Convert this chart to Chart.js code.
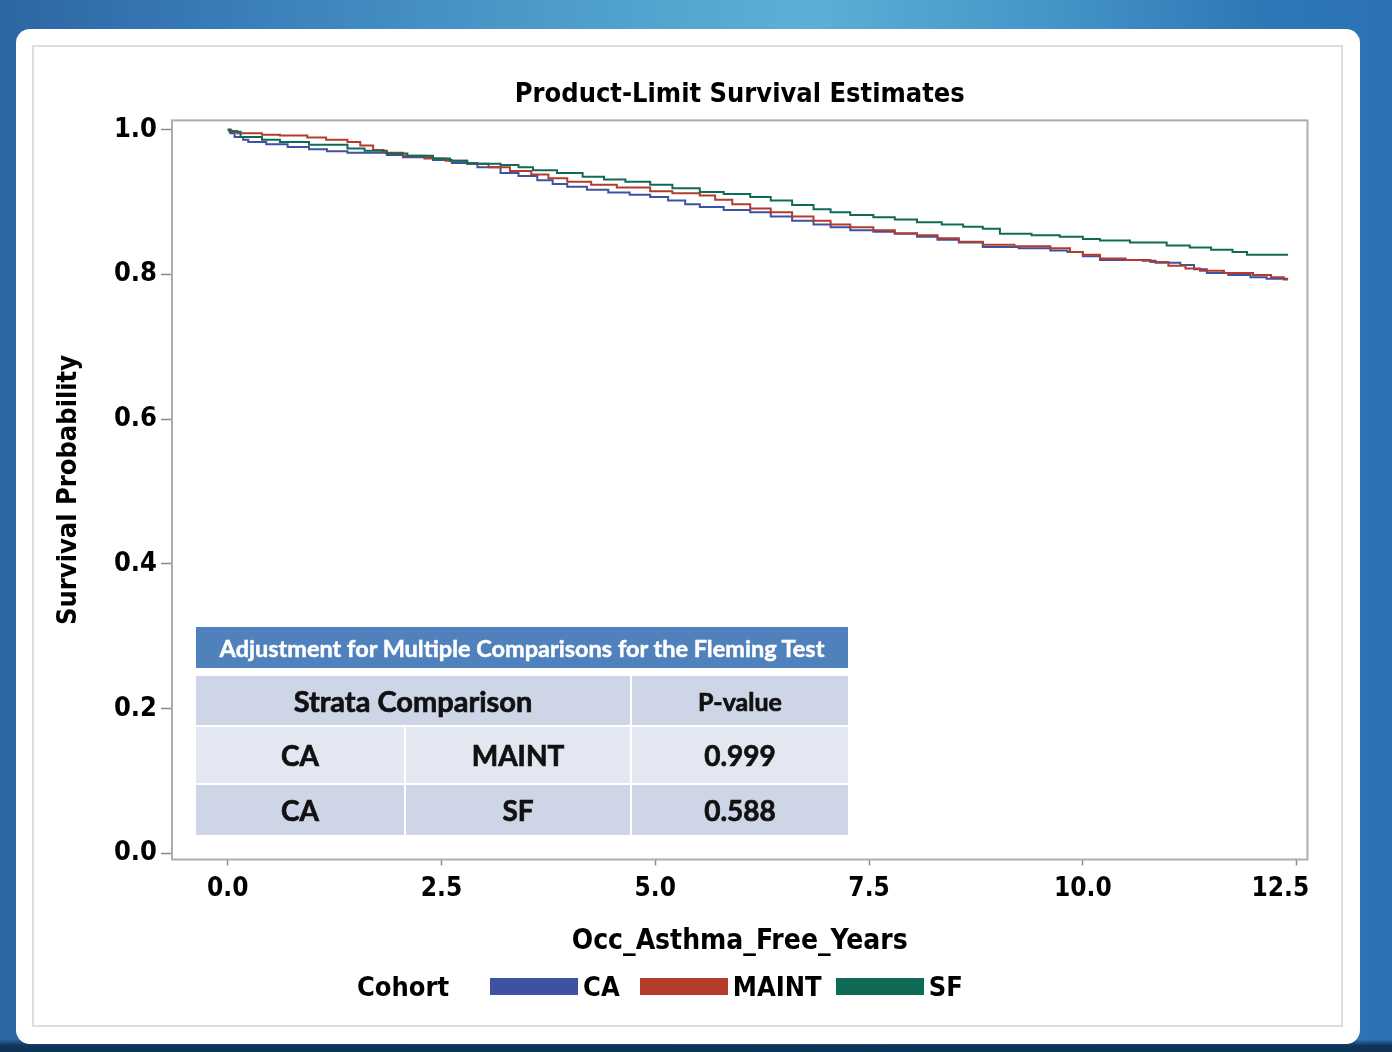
<!DOCTYPE html>
<html>
<head>
<meta charset="utf-8">
<script src="https://cdn.jsdelivr.net/npm/chart.js@4.4.1/dist/chart.umd.min.js"></script>
<style>
html,body{margin:0;padding:0;}
body{width:1392px;height:1052px;overflow:hidden;position:relative;
 background:
  linear-gradient(180deg, rgba(8,30,60,0) 0%, rgba(8,30,60,0) 98.8%, #0f3458 99.4%),
  linear-gradient(90deg,#2c66a3 0%,#3a7fba 18%,#4d9ccb 40%,#5cb0d6 58%,#4596c9 75%,#2f78b6 90%,#2a72b4 100%);}
#card{position:absolute;left:16px;top:29px;width:1344px;height:1015px;background:#fff;border-radius:14px;}
#inner{position:absolute;left:32px;top:45px;width:1311px;height:982px;border:2px solid #dedede;box-sizing:border-box;}
canvas{position:absolute;left:0;top:0;}
#tbl{position:absolute;left:196px;top:627px;width:652px;font-family:Lato,'Open Sans',sans-serif;}
#tbl .hdr{height:41px;line-height:43px;background:#4f81bd;color:#fff;font-weight:bold;font-size:23.5px;text-align:center;white-space:nowrap;-webkit-text-stroke:0.5px #fff;}
#tbl .grid{margin-top:8px;display:grid;grid-template-columns:208px 224px 216px;grid-template-rows:49px 56px 50px;gap:2px;background:#fff;}
#tbl .cell{display:flex;align-items:center;justify-content:center;font-weight:bold;font-size:28px;color:#111;-webkit-text-stroke:0.7px #111;}
#tbl .dark{background:#cdd5e6;}
#tbl .light{background:#e2e7f1;}
#legend{position:absolute;left:357px;top:972px;height:28px;display:flex;align-items:center;
 font-family:'DejaVu Sans Condensed','DejaVu Sans',sans-serif;font-weight:bold;font-size:27px;color:#000;}
#legend .box{width:88px;height:17px;}
</style>
</head>
<body>
<div id="card"></div>
<div id="inner"></div>
<canvas id="c" width="1392" height="1052"></canvas>
<div id="tbl"></div>
<div id="legend"></div>
<script>
// ---- data ----
const seriesNames = ['CA', 'MAINT', 'SF'];
const seriesColors = ['#3f51a3', '#b33c2d', '#0f6b56'];

const caTime = [0, 0.03, 0.08, 0.18, 0.24, 0.45, 0.70, 0.95, 1.16, 1.40, 1.86, 2.05, 2.40, 2.62, 2.92, 3.19, 3.40, 3.62, 3.80, 3.97, 4.20, 4.45, 4.70, 4.94, 5.15, 5.35, 5.52, 5.80, 6.11, 6.35, 6.60, 6.85, 7.05, 7.28, 7.55, 7.80, 8.06, 8.30, 8.55, 8.83, 9.25, 9.62, 9.82, 10.00, 10.20, 10.70, 10.85, 11.14, 11.30, 11.45, 11.70, 11.96, 12.15, 12.40];
const caSurv = [1.000, 0.995, 0.990, 0.986, 0.983, 0.980, 0.976, 0.973, 0.970, 0.968, 0.965, 0.962, 0.958, 0.954, 0.948, 0.940, 0.936, 0.930, 0.925, 0.921, 0.917, 0.913, 0.910, 0.907, 0.902, 0.897, 0.893, 0.889, 0.886, 0.880, 0.874, 0.869, 0.865, 0.861, 0.859, 0.856, 0.852, 0.848, 0.844, 0.838, 0.836, 0.833, 0.831, 0.825, 0.820, 0.819, 0.816, 0.813, 0.807, 0.802, 0.799, 0.796, 0.794, 0.794];

const maintTime = [0, 0.04, 0.11, 0.40, 0.61, 0.93, 1.15, 1.40, 1.55, 1.70, 1.82, 2.05, 2.30, 2.55, 2.80, 3.05, 3.30, 3.55, 3.75, 3.97, 4.25, 4.55, 4.94, 5.20, 5.52, 5.70, 5.90, 6.11, 6.35, 6.60, 6.85, 7.05, 7.28, 7.55, 7.80, 8.06, 8.30, 8.55, 8.83, 9.20, 9.62, 9.85, 10.00, 10.20, 10.50, 10.79, 11.00, 11.20, 11.37, 11.65, 11.99, 12.20, 12.35, 12.40];
const maintSurv = [1.000, 0.998, 0.995, 0.993, 0.992, 0.989, 0.986, 0.983, 0.978, 0.972, 0.968, 0.964, 0.960, 0.957, 0.953, 0.948, 0.943, 0.938, 0.933, 0.928, 0.924, 0.920, 0.915, 0.912, 0.909, 0.903, 0.897, 0.891, 0.886, 0.880, 0.874, 0.869, 0.865, 0.861, 0.857, 0.854, 0.850, 0.845, 0.841, 0.839, 0.836, 0.831, 0.827, 0.822, 0.820, 0.817, 0.812, 0.808, 0.805, 0.802, 0.799, 0.796, 0.793, 0.793];

const sfTime = [0, 0.02, 0.15, 0.40, 0.61, 0.95, 1.40, 1.60, 1.86, 2.10, 2.40, 2.60, 2.80, 3.19, 3.40, 3.57, 3.85, 4.15, 4.40, 4.65, 4.94, 5.20, 5.52, 5.80, 6.11, 6.35, 6.60, 6.85, 7.05, 7.28, 7.55, 7.80, 8.06, 8.35, 8.60, 8.83, 9.03, 9.40, 9.73, 10.00, 10.20, 10.55, 10.98, 11.25, 11.50, 11.75, 11.92, 12.40];
const sfSurv = [1.000, 0.997, 0.990, 0.986, 0.983, 0.979, 0.974, 0.971, 0.967, 0.964, 0.960, 0.957, 0.953, 0.951, 0.948, 0.944, 0.940, 0.935, 0.931, 0.928, 0.924, 0.919, 0.914, 0.911, 0.907, 0.902, 0.896, 0.890, 0.886, 0.882, 0.879, 0.876, 0.872, 0.869, 0.866, 0.863, 0.856, 0.854, 0.852, 0.849, 0.847, 0.844, 0.840, 0.837, 0.834, 0.831, 0.827, 0.827];

const xTickValues = [0, 2.5, 5, 7.5, 10, 12.5];
const xTickLabels = ['0.0', '2.5', '5.0', '7.5', '10.0', '12.5'];
const yTickValues = [0, 0.2, 0.4, 0.6, 0.8, 1.0];
const yTickLabels = ['0.0', '0.2', '0.4', '0.6', '0.8', '1.0'];

const tableTitle = 'Adjustment for Multiple Comparisons for the Fleming Test';
const tableHeader = ['Strata Comparison', 'P-value'];
const compFirst = ['CA', 'CA'];
const compSecond = ['MAINT', 'SF'];
const pValues = ['0.999', '0.588'];

// ---- chart ----
const FONT = "'DejaVu Sans Condensed', 'DejaVu Sans', sans-serif";
const times = [caTime, maintTime, sfTime];
const survs = [caSurv, maintSurv, sfSurv];

const datasets = seriesNames.map((name, k) => ({
  label: name,
  data: times[k].map((t, i) => ({x: t, y: survs[k][i]})),
  borderColor: seriesColors[k],
  backgroundColor: seriesColors[k],
  borderWidth: 2,
  stepped: true,
  pointRadius: 0,
  fill: false,
  order: 2 - k
}));

const frame = {
  id: 'frame',
  beforeDatasetsDraw(chart) {
    const a = chart.chartArea, ctx = chart.ctx;
    ctx.save();
    ctx.strokeStyle = '#adadad';
    ctx.lineWidth = 2;
    ctx.strokeRect(a.left, a.top, a.right - a.left, a.bottom - a.top);
    ctx.restore();
  }
};

new Chart(document.getElementById('c'), {
  type: 'line',
  data: {datasets},
  plugins: [frame],
  options: {
    responsive: false,
    animation: false,
    devicePixelRatio: 1,
    layout: {padding: {left: 40, right: 84.5, top: 50, bottom: 93}},
    plugins: {
      legend: {display: false},
      tooltip: {enabled: false},
      title: {
        display: true,
        fullSize: false,
        text: 'Product-Limit Survival Estimates',
        color: '#000',
        font: {family: FONT, size: 27, weight: 'bold'},
        padding: {top: 29, bottom: 9}
      }
    },
    scales: {
      x: {
        type: 'linear',
        min: -0.652,
        max: 12.627,
        afterFit(s) { s.height = 99.5; },
        afterBuildTicks(s) { s.ticks = xTickValues.map(v => ({value: v})); },
        border: {display: false},
        grid: {display: true, drawOnChartArea: false, drawTicks: true, tickLength: 6, tickColor: '#8c8c8c', tickWidth: 1.5},
        ticks: {
          color: '#000',
          padding: 8,
          maxRotation: 0,
          autoSkip: false,
          font: {family: FONT, size: 26, weight: 'bold'},
          // last label is pulled inside the frame, as in the original
          callback: (v, i) => i === xTickLabels.length - 1 ? xTickLabels[i] + '    ' : xTickLabels[i]
        },
        title: {
          display: true,
          text: 'Occ_Asthma_Free_Years',
          color: '#000',
          font: {family: FONT, size: 28, weight: 'bold'},
          padding: {top: 0, bottom: 0}
        }
      },
      y: {
        type: 'linear',
        min: -0.0086,
        max: 1.0128,
        afterFit(s) { s.width = 132; },
        afterBuildTicks(s) { s.ticks = yTickValues.map(v => ({value: v})); },
        border: {display: false},
        grid: {display: true, drawOnChartArea: false, drawTicks: true, tickLength: 11, tickColor: '#8c8c8c', tickWidth: 1.5},
        ticks: {
          color: '#000',
          padding: 4,
          autoSkip: false,
          font: {family: FONT, size: 27, weight: 'bold'},
          callback: (v, i) => yTickLabels[i]
        },
        title: {
          display: true,
          text: 'Survival Probability',
          color: '#000',
          font: {family: FONT, size: 27, weight: 'bold'},
          padding: {top: 13, bottom: 0}
        }
      }
    }
  }
});

// ---- legend (HTML) ----
const legendGaps = [20, 14, 0];
const lg = document.getElementById('legend');
const cohort = document.createElement('span');
cohort.textContent = 'Cohort';
cohort.style.marginRight = '41px';
lg.appendChild(cohort);
datasets.forEach((d, k) => {
  const b = document.createElement('span');
  b.className = 'box';
  b.style.background = d.borderColor;
  lg.appendChild(b);
  const t = document.createElement('span');
  t.textContent = d.label;
  t.style.marginLeft = '5px';
  t.style.marginRight = legendGaps[k] + 'px';
  lg.appendChild(t);
});

// ---- table overlay ----
const tbl = document.getElementById('tbl');
const hdr = document.createElement('div');
hdr.className = 'hdr';
hdr.textContent = tableTitle;
tbl.appendChild(hdr);
const grid = document.createElement('div');
grid.className = 'grid';
function cell(text, cls, span, size) {
  const c = document.createElement('div');
  c.className = 'cell ' + cls;
  c.textContent = text;
  if (span) c.style.gridColumn = 'span ' + span;
  if (size) c.style.fontSize = size + 'px';
  grid.appendChild(c);
}
cell(tableHeader[0], 'dark', 2, 29);
cell(tableHeader[1], 'dark', 0, 25);
compFirst.forEach((a, i) => {
  const cls = i % 2 === 0 ? 'light' : 'dark';
  cell(a, cls);
  cell(compSecond[i], cls);
  cell(pValues[i], cls);
});
tbl.appendChild(grid);
</script>
</body>
</html>
